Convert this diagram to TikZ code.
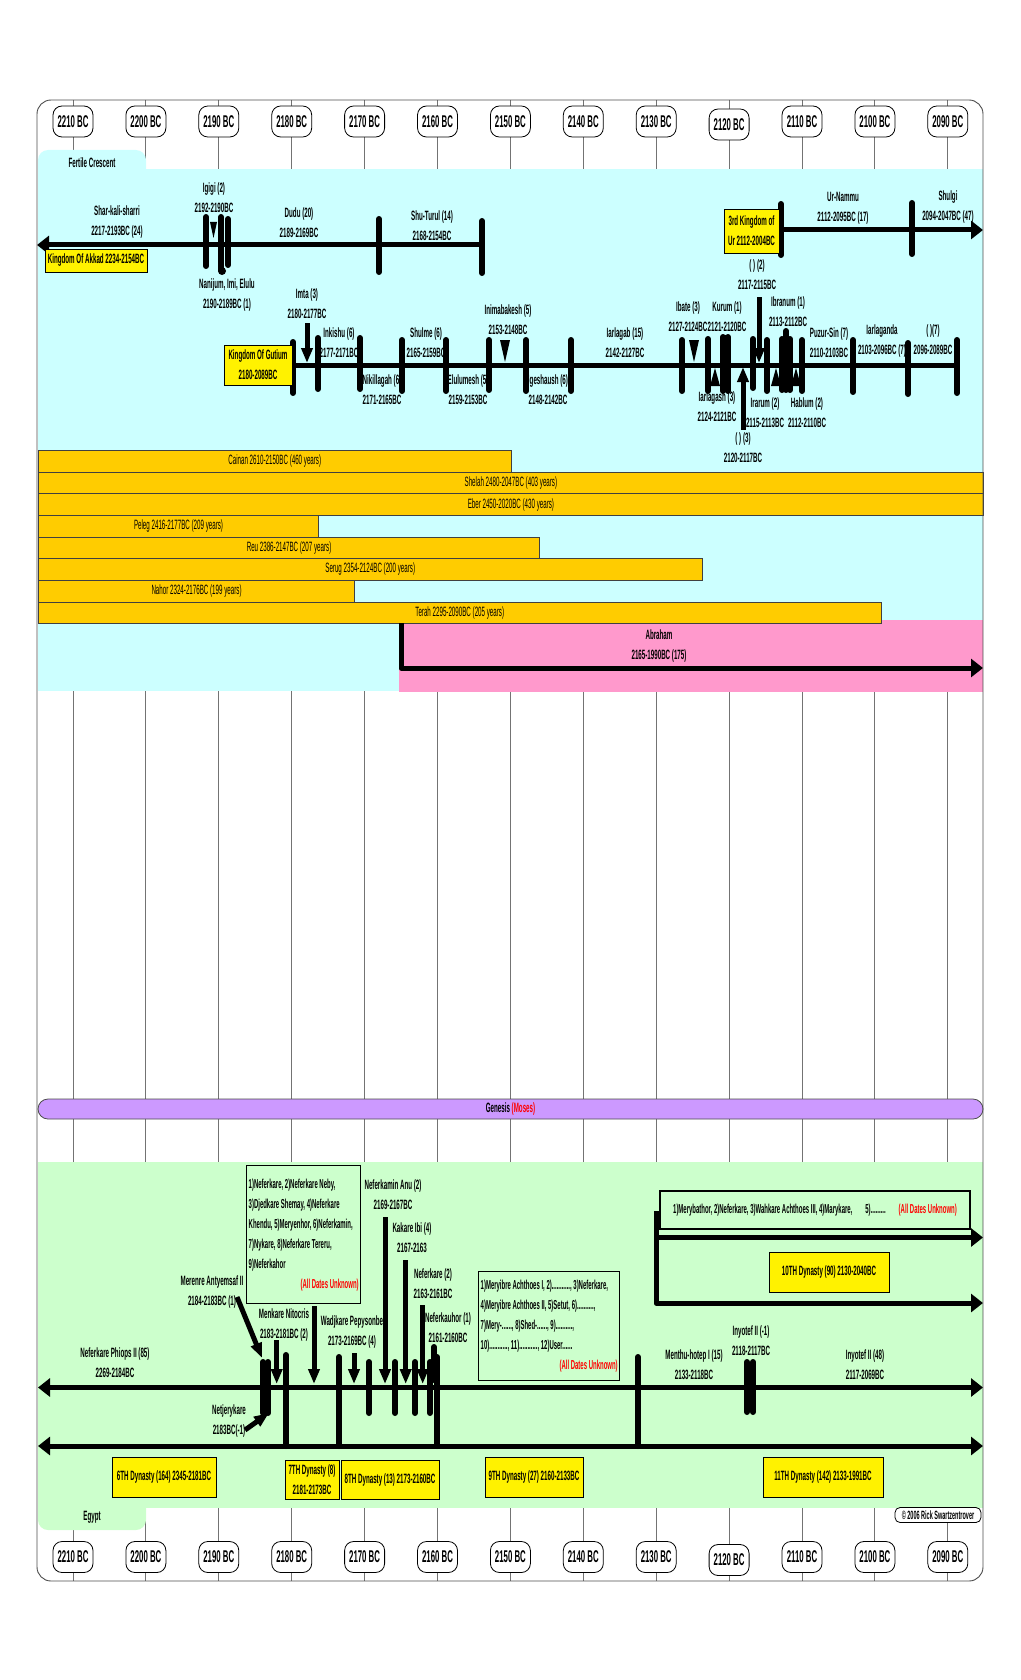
\documentclass[tikz,border=0pt]{standalone}
\usepackage{fontspec}
\setmainfont{Liberation Sans}[FakeStretch=0.46]
\usetikzlibrary{arrows.meta}
\definecolor{crescent}{HTML}{CCFFFF}
\definecolor{egyptgreen}{HTML}{CCFFCC}
\definecolor{gold}{HTML}{FFCC00}
\definecolor{abrapink}{HTML}{FF99CC}
\definecolor{genesis}{HTML}{CC99FF}
\begin{document}
\begin{tikzpicture}[x=1pt, y=-1pt,
    gridline/.style={draw=black!55, line width=0.9pt},
    yearbox/.style={draw=black, fill=white, rounded corners=9pt,
                    line width=0.8pt, minimum width=40pt, minimum height=31pt,
                    inner sep=1pt, font=\bfseries\fontsize{17}{18}\selectfont},
    lbl/.style={align=center, inner sep=0pt,
                font=\bfseries\fontsize{13.5}{20}\selectfont},
    kbox/.style={draw=black, fill=yellow, line width=0.8pt, align=center,
                 inner sep=1pt, font=\bfseries\fontsize{13.5}{20}\selectfont},
    namebox/.style={draw=black, line width=1.4pt, align=flush left, anchor=north west,
                    inner xsep=2pt, inner ysep=3pt,
                    font=\bfseries\fontsize{13}{20}\selectfont},
    lifebar/.style={draw=black!75, fill=gold, line width=0.8pt, anchor=north west,
                    inner sep=0pt, font=\fontsize{13.5}{14}\selectfont},
    era/.style={line width=5pt, line join=round},
    arrowend/.style={-{Triangle[length=12pt,width=18pt]}},
    arrowstart/.style={{Triangle[length=12pt,width=18pt]}-},
    arrowboth/.style={{Triangle[length=12pt,width=18pt]}-{Triangle[length=12pt,width=18pt]}},
    reign/.style={line width=6pt, line cap=round},
    pointer/.style={line width=5pt, -{Triangle[length=15pt,width=11pt]}}
  ]
    \useasboundingbox (0,0) rectangle (1020,1680);

    \foreach \i in {0,...,12}
      \draw[gridline] (73+72.9*\i,100) -- (73+72.9*\i,1581);

    \fill[crescent, rounded corners=10pt] (38,150) rectangle (146,190);
    \fill[crescent] (38,169) rectangle (983,691);
    \fill[egyptgreen] (38,1162) rectangle (983,1508);
    \fill[egyptgreen, rounded corners=10pt] (38,1490) rectangle (146,1530);

    \foreach \i in {0,...,12} {
      \pgfmathtruncatemacro\yr{2210-10*\i}
      \pgfmathsetmacro\dy{\i==9 ? 3 : 0}
      \node[yearbox] (top\i) at (73+72.9*\i,121.5+\dy) {\yr\ BC};
      \node[yearbox] (bot\i) at (73+72.9*\i,1557+\dy) {\yr\ BC};
    }

    \node[lbl] (crescentname) at (92,163) {Fertile Crescent};
    \node[lbl] (egyptname) at (92,1517) {Egypt};

    % Akkad
    \draw[era, arrowstart] (37,245) -- (482,245);
    \foreach \x/\a/\b in {206/217/266, 221/217/270, 228/219/265, 379/219/272, 482/221/273}
      \draw[reign] (\x,\a) -- (\x,\b);
    \fill (222,271) circle (4);
    \fill (210,222) -- (217,222) -- (213.5,238) -- cycle;
    \node[kbox, minimum width=102pt, minimum height=23pt] (akkad) at (96,260.5)
      {Kingdom Of Akkad 2234-2154BC};
    \node[lbl] (sharkali) at (117,222) {Shar-kali-sharri\\2217-2193BC (24)};
    \node[lbl] (igigi)    at (214,197.5) {Igigi (2)\\2192-2190BC};
    \node[lbl] (dudu)     at (299,222.5) {Dudu (20)\\2189-2169BC};
    \node[lbl] (shuturul) at (432,225.5) {Shu-Turul (14)\\2168-2154BC};
    \node[lbl] (nanijum)  at (227,295) {Nanijum, Imi, Elulu\\2190-2189BC (1)};

    % Ur
    \draw[era, arrowend] (781,230) -- (983,230);
    \draw[reign] (781,204) -- (781,255);
    \draw[reign] (912,203) -- (912,254);
    \node[kbox, minimum width=55pt, minimum height=44pt] (urbox) at (751.5,231)
      {3rd Kingdom of\\Ur 2112-2004BC};
    \node[lbl] (urnammu) at (843,208) {Ur-Nammu\\2112-2095BC (17)};
    \node[lbl] (shulgi)  at (948,207) {Shulgi\\2094-2047BC (47)};

    % Gutium
    \draw[era] (293,365) -- (957,365);
    \foreach \x/\a/\b in {293/342/393, 318/338/389, 360/338/389, 402/340/391,
        446/340/391, 489/340/390, 526/340/391, 571/340/391, 682/340/391,
        708/339/391, 723/337/391, 728/337/391, 753/339/388, 767/340/391,
        782/339/390, 786/331/390, 790/339/390, 802/340/391, 853/340/392,
        908/343/394, 957/340/393}
      \draw[reign] (\x,\a) -- (\x,\b);
    \foreach \x in {505,694}
      \fill (\x-5,340) -- (\x+5,340) -- (\x,362) -- cycle;
    \fill (721,335) -- (729,335) -- (725,343) -- cycle;
    \fill (782,343) -- (790,343) -- (786,360) -- cycle;
    \foreach \x in {715,776,796}
      \fill (\x-5,386) -- (\x+5,386) -- (\x,368) -- cycle;
    \draw[pointer] (307,323) -- (307,363);
    \draw[pointer] (759,297) -- (759,363);
    \draw[pointer] (743,430) -- (743,367);
    \node[kbox, minimum width=68pt, minimum height=40pt] (gutium) at (258,365)
      {Kingdom Of Gutium\\2180-2089BC};
    \node[lbl] (imta)        at (307,303.5) {Imta (3)\\2180-2177BC};
    \node[lbl] (inkishu)     at (339,343) {Inkishu (6)\\2177-2171BC};
    \node[lbl] (shulme)      at (426,343) {Shulme (6)\\2165-2159BC};
    \node[lbl] (inimabakesh) at (508,320) {Inimabakesh (5)\\2153-2148BC};
    \node[lbl] (iarlagab)    at (625,343) {Iarlagab (15)\\2142-2127BC};
    \node[lbl] (nikillagah)  at (382,390) {Nikillagah (6)\\2171-2165BC};
    \node[lbl] (elulumesh)   at (468,390) {Elulumesh (5)\\2159-2153BC};
    \node[lbl] (igeshaush)   at (548,390) {Igeshaush (6)\\2148-2142BC};
    \node[lbl] (blanktwo)    at (757,275) {( ) (2)\\2117-2115BC};
    \node[lbl] (ibate)       at (688,316.5) {Ibate (3)\\2127-2124BC};
    \node[lbl] (kurum)       at (727,316.5) {Kurum (1)\\2121-2120BC};
    \node[lbl] (ibranum)     at (788,311.5) {Ibranum (1)\\2113-2112BC};
    \node[lbl] (puzursin)    at (829,343) {Puzur-Sin (7)\\2110-2103BC};
    \node[lbl] (iarlaganda)  at (882,341.5) {Iarlaganda\\2103-2096BC (7)};
    \node[lbl] (blankseven)  at (933,340) {( )(7)\\2096-2089BC};
    \node[lbl] (iarlagash)   at (717,406.5) {Iarlagash (3)\\2124-2121BC};
    \node[lbl] (irarum)      at (765,412.5) {Irarum (2)\\2115-2113BC};
    \node[lbl] (hablum)      at (807,413) {Hablum (2)\\2112-2110BC};
    \node[lbl] (blankthree)  at (743,448) {( ) (3)\\2120-2117BC};

    % patriarchs
    \fill[abrapink] (399,620) rectangle (983,692);
    \foreach \nm/\xe/\txt [count=\k from 0] in {
        cainan/510.7/{Cainan 2610-2150BC (460 years)},
        shelah/983/{Shelah 2480-2047BC (403 years)},
        eber/983/{Eber 2450-2020BC (430 years)},
        peleg/318.3/{Peleg 2416-2177BC (209 years)},
        reu/539.3/{Reu 2386-2147BC (207 years)},
        serug/701.7/{Serug 2354-2124BC (200 years)},
        nahor/354.3/{Nahor 2324-2176BC (199 years)},
        terah/880.7/{Terah 2295-2090BC (205 years)}}
      \node[lifebar, minimum width={\xe-38}, minimum height=21.65pt]
        (\nm) at (38,450+21.65*\k) {\txt};
    \draw[era, arrowend] (401,623) |- (983,668);
    \node[lbl] (abraham) at (659,646) {Abraham\\2165-1990BC (175)};

    \node[draw=black!70, fill=genesis, rounded corners=10pt, line width=0.8pt,
          minimum width=945pt, minimum height=20pt, inner sep=0pt,
          font=\bfseries\fontsize{13.5}{14}\selectfont]
      (genesisbar) at (510.5,1109) {Genesis \textcolor{red}{(Moses)}};

    % Egypt
    \draw[era, arrowboth] (38,1387.5) -- (983,1387.5);
    \draw[era, arrowboth] (38,1446) -- (983,1446);
    \draw[era, arrowend] (656,1211) |- (983,1303);
    \draw[era, arrowend] (656,1237.5) -- (983,1237.5);
    \foreach \x/\a/\b in {263/1362/1413, 268/1362/1413, 286/1355/1446,
        339/1357/1446, 369/1362/1413, 395/1362/1413, 415/1362/1413,
        430/1362/1413, 434/1347/1380, 437/1357/1446, 638/1357/1446,
        747/1362/1412, 753/1362/1412}
      \draw[reign] (\x,\a) -- (\x,\b);
    \draw[pointer] (237,1297) -- (262,1358);
    \draw[pointer] (245,1430) -- (269,1413);
    \foreach \x/\a in {276.7/1340, 314/1306, 354/1353, 385/1217, 405.7/1260, 422.7/1305}
      \draw[pointer] (\x,\a) -- (\x,1384);

    \node[namebox, text width=110pt, minimum height=138pt] (names7) at (246,1165)
      {1)Neferkare, 2)Neferkare Neby,\\3)Djedkare Shemay, 4)Neferkare\\
       Khendu, 5)Meryenhor, 6)Neferkamin,\\7)Nykare, 8)Neferkare Tereru,\\
       9)Neferkahor\\\hspace*{\fill}\textcolor{red}{(All Dates Unknown)}\hspace*{\fill}};
    \node[namebox, text width=137pt, minimum height=109pt] (names9) at (478,1271)
      {1)Meryibre Achthoes I, 2)..........., 3)Neferkare,\\
       4)Meryibre Achthoes II, 5)Setut, 6)..........,\\
       7)Mery-......, 8)Shed-......, 9)..........,\\
       10)..........., 11)..........., 12)User......\\
       \hspace*{\fill}\textcolor{red}{(All Dates Unknown)}\hspace*{\fill}};
    \node[draw=black, line width=1.4pt, minimum width=310pt, minimum height=38pt,
          inner sep=2pt, font=\bfseries\fontsize{13}{20}\selectfont]
      (names10) at (815,1210)
      {1)Merybathor, 2)Neferkare, 3)Wahkare Achthoes III, 4)Marykare,\quad 5).........\quad
       \textcolor{red}{(All Dates Unknown)}};

    \node[lbl] (merenre)     at (212,1292) {Merenre Antyemsaf II\\2184-2183BC (1)};
    \node[lbl] (netjerykare) at (229,1421) {Netjerykare\\2183BC(-1)};
    \node[lbl] (menkare)     at (284,1325) {Menkare Nitocris\\2183-2181BC (2)};
    \node[lbl] (wadjkare)    at (352,1332) {Wadjkare Pepysonbe\\2173-2169BC (4)};
    \node[lbl] (neferkamin)  at (393,1195) {Neferkamin Anu (2)\\2169-2167BC};
    \node[lbl] (kakare)      at (412,1238) {Kakare Ibi (4)\\2167-2163};
    \node[lbl] (neferkare)   at (433,1284) {Neferkare (2)\\2163-2161BC};
    \node[lbl] (neferkauhor) at (448,1328) {Neferkauhor (1)\\2161-2160BC};
    \node[lbl] (phiops)      at (115,1363) {Neferkare Phiops II (85)\\2269-2184BC};
    \node[lbl] (menthuhotep) at (694,1365) {Menthu-hotep I (15)\\2133-2118BC};
    \node[lbl] (inyotefa)    at (751,1341) {Inyotef II (-1)\\2118-2117BC};
    \node[lbl] (inyotefb)    at (865,1365) {Inyotef II (48)\\2117-2069BC};

    \node[kbox, minimum width=104pt, minimum height=40pt] (dyn6)  at (164,1477) {6TH Dynasty (164) 2345-2181BC};
    \node[kbox, minimum width=54pt,  minimum height=39pt] (dyn7)  at (312,1479.5) {7TH Dynasty (8)\\2181-2173BC};
    \node[kbox, minimum width=98pt,  minimum height=39pt] (dyn8)  at (390,1479.5) {8TH Dynasty (13) 2173-2160BC};
    \node[kbox, minimum width=98pt,  minimum height=40pt] (dyn9)  at (534,1477) {9TH Dynasty (27) 2160-2133BC};
    \node[kbox, minimum width=120pt, minimum height=40pt] (dyn10) at (829,1272) {10TH Dynasty (90) 2130-2040BC};
    \node[kbox, minimum width=120pt, minimum height=40pt] (dyn11) at (823,1477) {11TH Dynasty (142) 2133-1991BC};

    \node[draw=black, fill=white, rounded corners=5pt, line width=0.8pt,
          minimum width=86pt, minimum height=15pt, inner sep=1pt,
          font=\bfseries\fontsize{12}{12}\selectfont]
      (credit) at (938,1515) {\textcopyright{} 2006 Rick Swartzentrover};

    \draw[black!70, line width=0.9pt, rounded corners=14pt] (37,100) rectangle (983,1581);
  \end{tikzpicture}
\end{document}
